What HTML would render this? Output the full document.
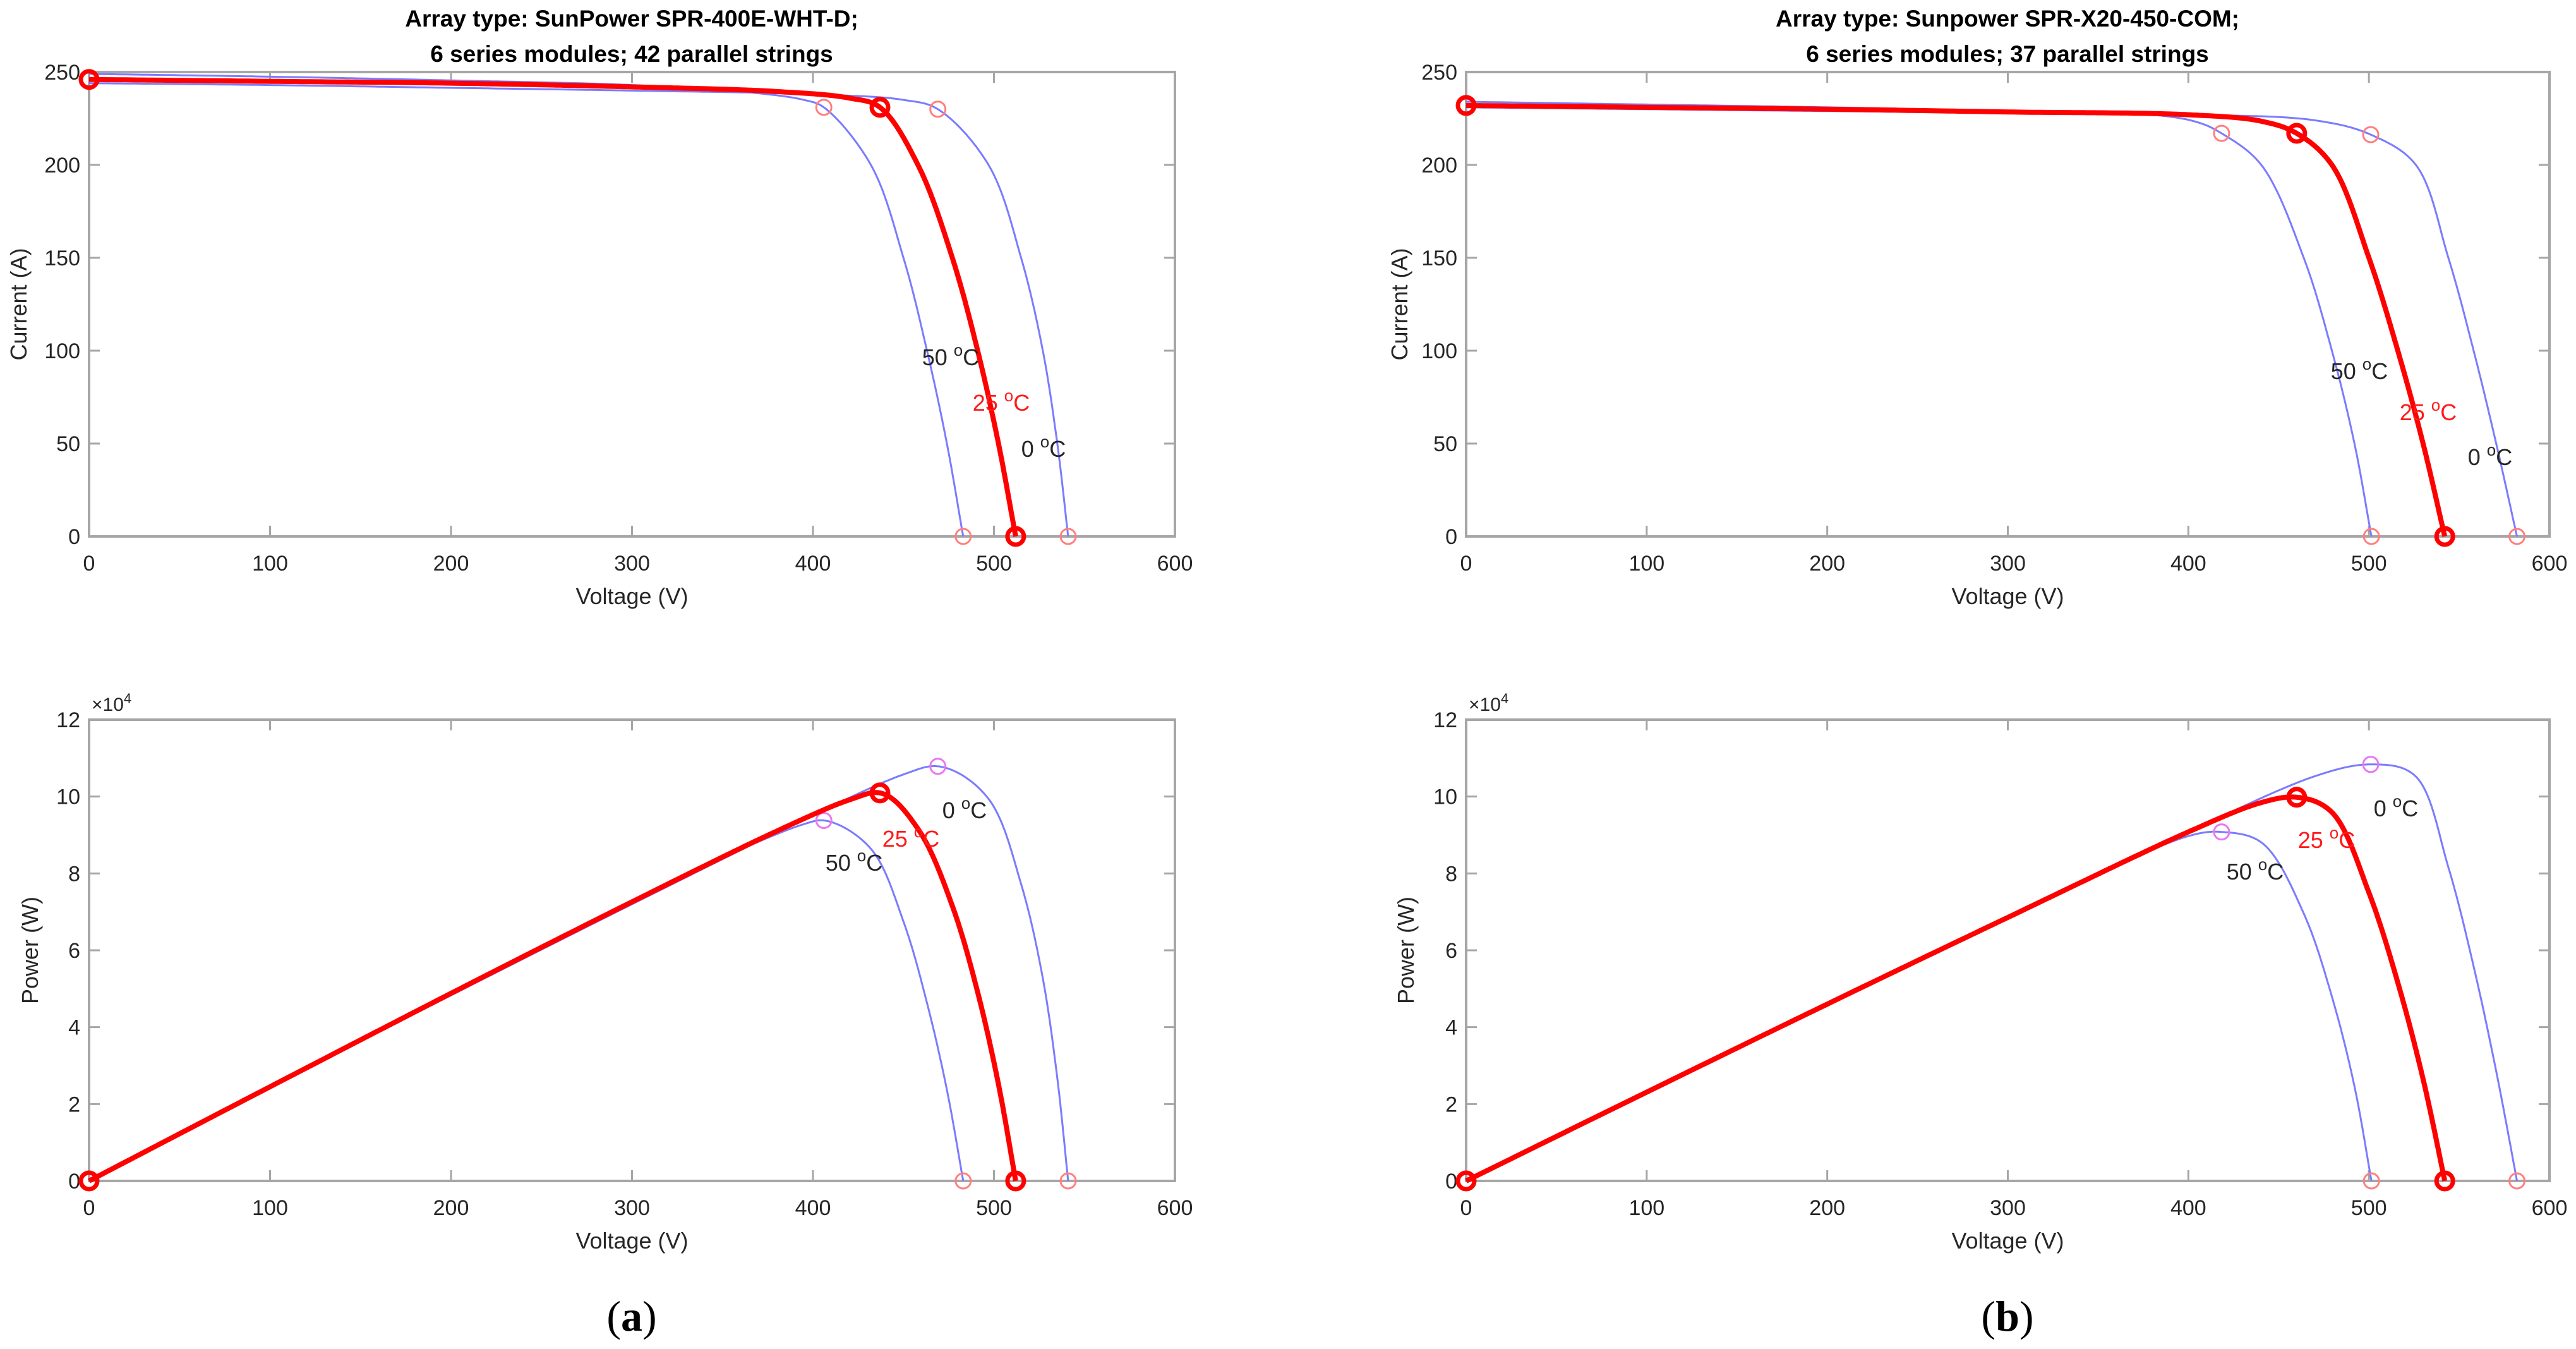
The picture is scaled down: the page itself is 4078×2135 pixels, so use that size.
<!DOCTYPE html>
<html><head><meta charset="utf-8">
<style>
html,body{margin:0;padding:0;background:#fff;}
svg{display:block;font-family:"Liberation Sans",Arial,sans-serif;}
</style></head>
<body>
<svg id="fig" width="4078" height="2135" viewBox="0 0 4078 2135" xmlns="http://www.w3.org/2000/svg"></svg>
<script>
// ---- data ----
const xTicks = [0,100,200,300,400,500,600];
const iTicks = [0,50,100,150,200,250];
const pTicks = [0,2,4,6,8,10,12];
const tempLabels = ["0 °C","25 °C","50 °C"];

const aV25 = [0,100,200,300,380,420,437,458,477,491,502.5,512];
const aI25 = [246,245,244,242,239.5,236,231,200,150,100,50,0];
const aV50 = [0,100,200,300,360,395,406,432,450,463,474,483];
const aI50 = [249,247.5,245.5,243,239.5,235,231,200,150,100,50,0];
const aV0  = [0,100,200,300,400,450,469,497,515,527,535,541];
const aI0  = [244,243,241.5,240,238,235,230,200,150,100,50,0];

const bV25 = [0,100,200,300,400,440,460,479.5,500,516,530,542];
const bI25 = [232,231,230,228.5,227,223.6,217,200,150,100,50,0];
const bV50 = [0,100,200,300,380,405,418.4,440.4,463.9,479.5,492,501.4];
const bI50 = [234,232.5,231,229,227,223,217,200,150,100,50,0];
const bV0  = [0,100,200,300,400,470,501,526,544,558,570.5,582];
const bI0  = [231,230,229,228,227,224,216.3,200,150,100,50,0];

const NS="http://www.w3.org/2000/svg";
const svg=document.getElementById('fig');
function el(tag,attrs,parent){const e=document.createElementNS(NS,tag);for(const k in attrs)e.setAttribute(k,attrs[k]);(parent||svg).appendChild(e);return e;}

// centripetal Catmull-Rom through knots (in IV pixel-proportional space)
function sample(V,I){
  const kx=1719/600, ky=735/250;
  const P=V.map((v,i)=>[v*kx,I[i]*ky]);
  const n=P.length,out=[];
  const ext=(a,b)=>[2*a[0]-b[0],2*a[1]-b[1]];
  const pts=[ext(P[0],P[1]),...P,ext(P[n-1],P[n-2])];
  for(let s=1;s<pts.length-2;s++){
    const p0=pts[s-1],p1=pts[s],p2=pts[s+1],p3=pts[s+2];
    const d=(a,b)=>Math.pow(Math.hypot(b[0]-a[0],b[1]-a[1])+1e-6,0.5);
    const t0=0,t1=t0+d(p0,p1),t2=t1+d(p1,p2),t3=t2+d(p2,p3);
    const N=40;
    for(let k=(s===1?0:1);k<=N;k++){
      const t=t1+(t2-t1)*k/N;
      const L=(a,b,ta,tb)=>[(tb-t)/(tb-ta)*a[0]+(t-ta)/(tb-ta)*b[0],(tb-t)/(tb-ta)*a[1]+(t-ta)/(tb-ta)*b[1]];
      const A1=L(p0,p1,t0,t1),A2=L(p1,p2,t1,t2),A3=L(p2,p3,t2,t3);
      const B1=L(A1,A2,t0,t2),B2=L(A2,A3,t1,t3);
      const C=L(B1,B2,t1,t2);
      out.push([C[0]/kx,Math.max(0,C[1]/ky)]);
    }
  }
  return out;
}

function panel(cfg){
  const g=el('g',{});
  
  
  const {x0,x1,y0,y1}=cfg;
  const sx=v=>x0+(v/600)*(x1-x0);
  const sy=v=>y1-(v/cfg.ymax)*(y1-y0);
  const box=el('rect',{x:x0,y:y0,width:x1-x0,height:y1-y0,fill:'#fff',stroke:'#a6a6a6','stroke-width':4},g);
  
  
  xTicks.forEach(t=>{
    const x=sx(t);
    el('line',{x1:x,y1:y1,x2:x,y2:y1-17,stroke:'#a6a6a6','stroke-width':3},g);
    el('line',{x1:x,y1:y0,x2:x,y2:y0+17,stroke:'#a6a6a6','stroke-width':3},g);
    const tx=el('text',{x:x,y:y1+54,'font-size':34,fill:'#262626','text-anchor':'middle'},g);
    tx.textContent=t;
    
    
  });
  cfg.yTicks.forEach(t=>{
    const y=sy(t*cfg.tickMul);
    el('line',{x1:x0,y1:y,x2:x0+17,y2:y,stroke:'#a6a6a6','stroke-width':3},g);
    el('line',{x1:x1,y1:y,x2:x1-17,y2:y,stroke:'#a6a6a6','stroke-width':3},g);
    const tx=el('text',{x:x0-14,y:y+12,'font-size':34,fill:'#262626','text-anchor':'end'},g);
    tx.textContent=t;
    
    
  });
  const xl=el('text',{x:(x0+x1)/2,y:y1+107,'font-size':36,fill:'#262626','text-anchor':'middle'},g);
  xl.textContent='Voltage (V)';
  
  
  const yl=el('text',{x:0,y:0,'font-size':36,fill:'#262626','text-anchor':'middle',transform:`translate(${cfg.ylx},${(y0+y1)/2}) rotate(-90)`},g);
  yl.textContent=cfg.ylabel;
  
  
  if(cfg.power){
    const ex=el('text',{x:x0+4,y:y0-14,'font-size':30,fill:'#262626'},g);
    ex.innerHTML='×10<tspan dy="-12" font-size="22">4</tspan>';
    
    
  }
  const series=[[cfg.V0,cfg.I0,'0'],[cfg.V50,cfg.I50,'50'],[cfg.V25,cfg.I25,'25']];
  series.forEach(([V,I,k])=>{
    const pts=sample(V,I);
    const vals=pts.map(p=>[p[0],cfg.power?p[0]*p[1]:p[1]]);
    const d=vals.map((p,i)=>(i?'L':'M')+sx(p[0]).toFixed(1)+' '+sy(p[1]).toFixed(1)).join(' ');
    const red=k==='25';
    const path=el('path',{d:d,fill:'none',stroke:red?'#ff0000':'#7b7bff','stroke-width':red?8:3,'stroke-linejoin':'round'},g);
    
    
    let mi=0,mp=-1;V.forEach((v,i)=>{if(v*I[i]>mp){mp=v*I[i];mi=i;}});
    const val=i=>[V[i],cfg.power?V[i]*I[i]:I[i]];
    const mk=[[val(0),'start'],[val(mi),'mpp'],[val(V.length-1),'voc']];
    mk.forEach(([p,type])=>{
      if(!red&&type==='start')return;
      let col='#ff7f7f',sw=3,r=12;
      if(red){col='#ff0000';sw=7;r=13;}
      else if(cfg.power&&type==='mpp'){col='#e878f0';}
      const c=el('circle',{cx:sx(p[0]),cy:sy(p[1]),r:r,fill:'none',stroke:col,'stroke-width':sw},g);
      
      
    });
  });
  cfg.labels.forEach((L,i)=>{
    const t=el('text',{x:L[0],y:L[1],'font-size':36,fill:i===1?'#ff1a1a':'#262626','text-anchor':'middle'},g);
    const num=tempLabels[i].split(' ')[0];
    t.innerHTML=num+' <tspan dy="-15" font-size="26">o</tspan><tspan dy="15">C</tspan>';
    
    
  });
}

panel({name:'iv-chart-a',x0:141,x1:1860,y0:114,y1:849,ymax:250,yTicks:iTicks,tickMul:1,ylabel:'Current (A)',ylx:42,
  V25:aV25,I25:aI25,V50:aV50,I50:aI50,V0:aV0,I0:aI0,
  labels:[[1652,723],[1585,650],[1505,578]]});
panel({name:'pv-chart-a',x0:141,x1:1860,y0:1139,y1:1869,ymax:120000,yTicks:pTicks,tickMul:10000,ylabel:'Power (W)',ylx:60,power:true,
  V25:aV25,I25:aI25,V50:aV50,I50:aI50,V0:aV0,I0:aI0,
  labels:[[1527,1295],[1442,1340],[1352,1378]]});
panel({name:'iv-chart-b',x0:2321,x1:4036,y0:114,y1:849,ymax:250,yTicks:iTicks,tickMul:1,ylabel:'Current (A)',ylx:2228,
  V25:bV25,I25:bI25,V50:bV50,I50:bI50,V0:bV0,I0:bI0,
  labels:[[3942,736],[3844,665],[3735,600]]});
panel({name:'pv-chart-b',x0:2321,x1:4036,y0:1139,y1:1869,ymax:120000,yTicks:pTicks,tickMul:10000,ylabel:'Power (W)',ylx:2238,power:true,
  V25:bV25,I25:bI25,V50:bV50,I50:bI50,V0:bV0,I0:bI0,
  labels:[[3793,1292],[3683,1342],[3570,1392]]});

[[1000,'Array type: SunPower SPR-400E-WHT-D;','6 series modules; 42 parallel strings','title-a'],
 [3178,'Array type: Sunpower SPR-X20-450-COM;','6 series modules; 37 parallel strings','title-b']].forEach(T=>{
  const t=el('text',{x:T[0],y:42,'font-size':37,'font-weight':'bold',fill:'#000','text-anchor':'middle'});
  t.textContent=T[1];
  
  
  const t2=el('text',{x:T[0],y:98,'font-size':37,'font-weight':'bold',fill:'#000','text-anchor':'middle'});
  t2.textContent=T[2];
  
  
});
[[1000,'a','caption-a'],[3178,'b','caption-b']].forEach(C=>{
  const t=el('text',{x:C[0],y:2106,'font-size':68,fill:'#000','text-anchor':'middle','font-family':'Liberation Serif, serif'});
  t.innerHTML='(<tspan font-weight="bold">'+C[1]+'</tspan>)';
  
  
});
</script>
</body></html>
